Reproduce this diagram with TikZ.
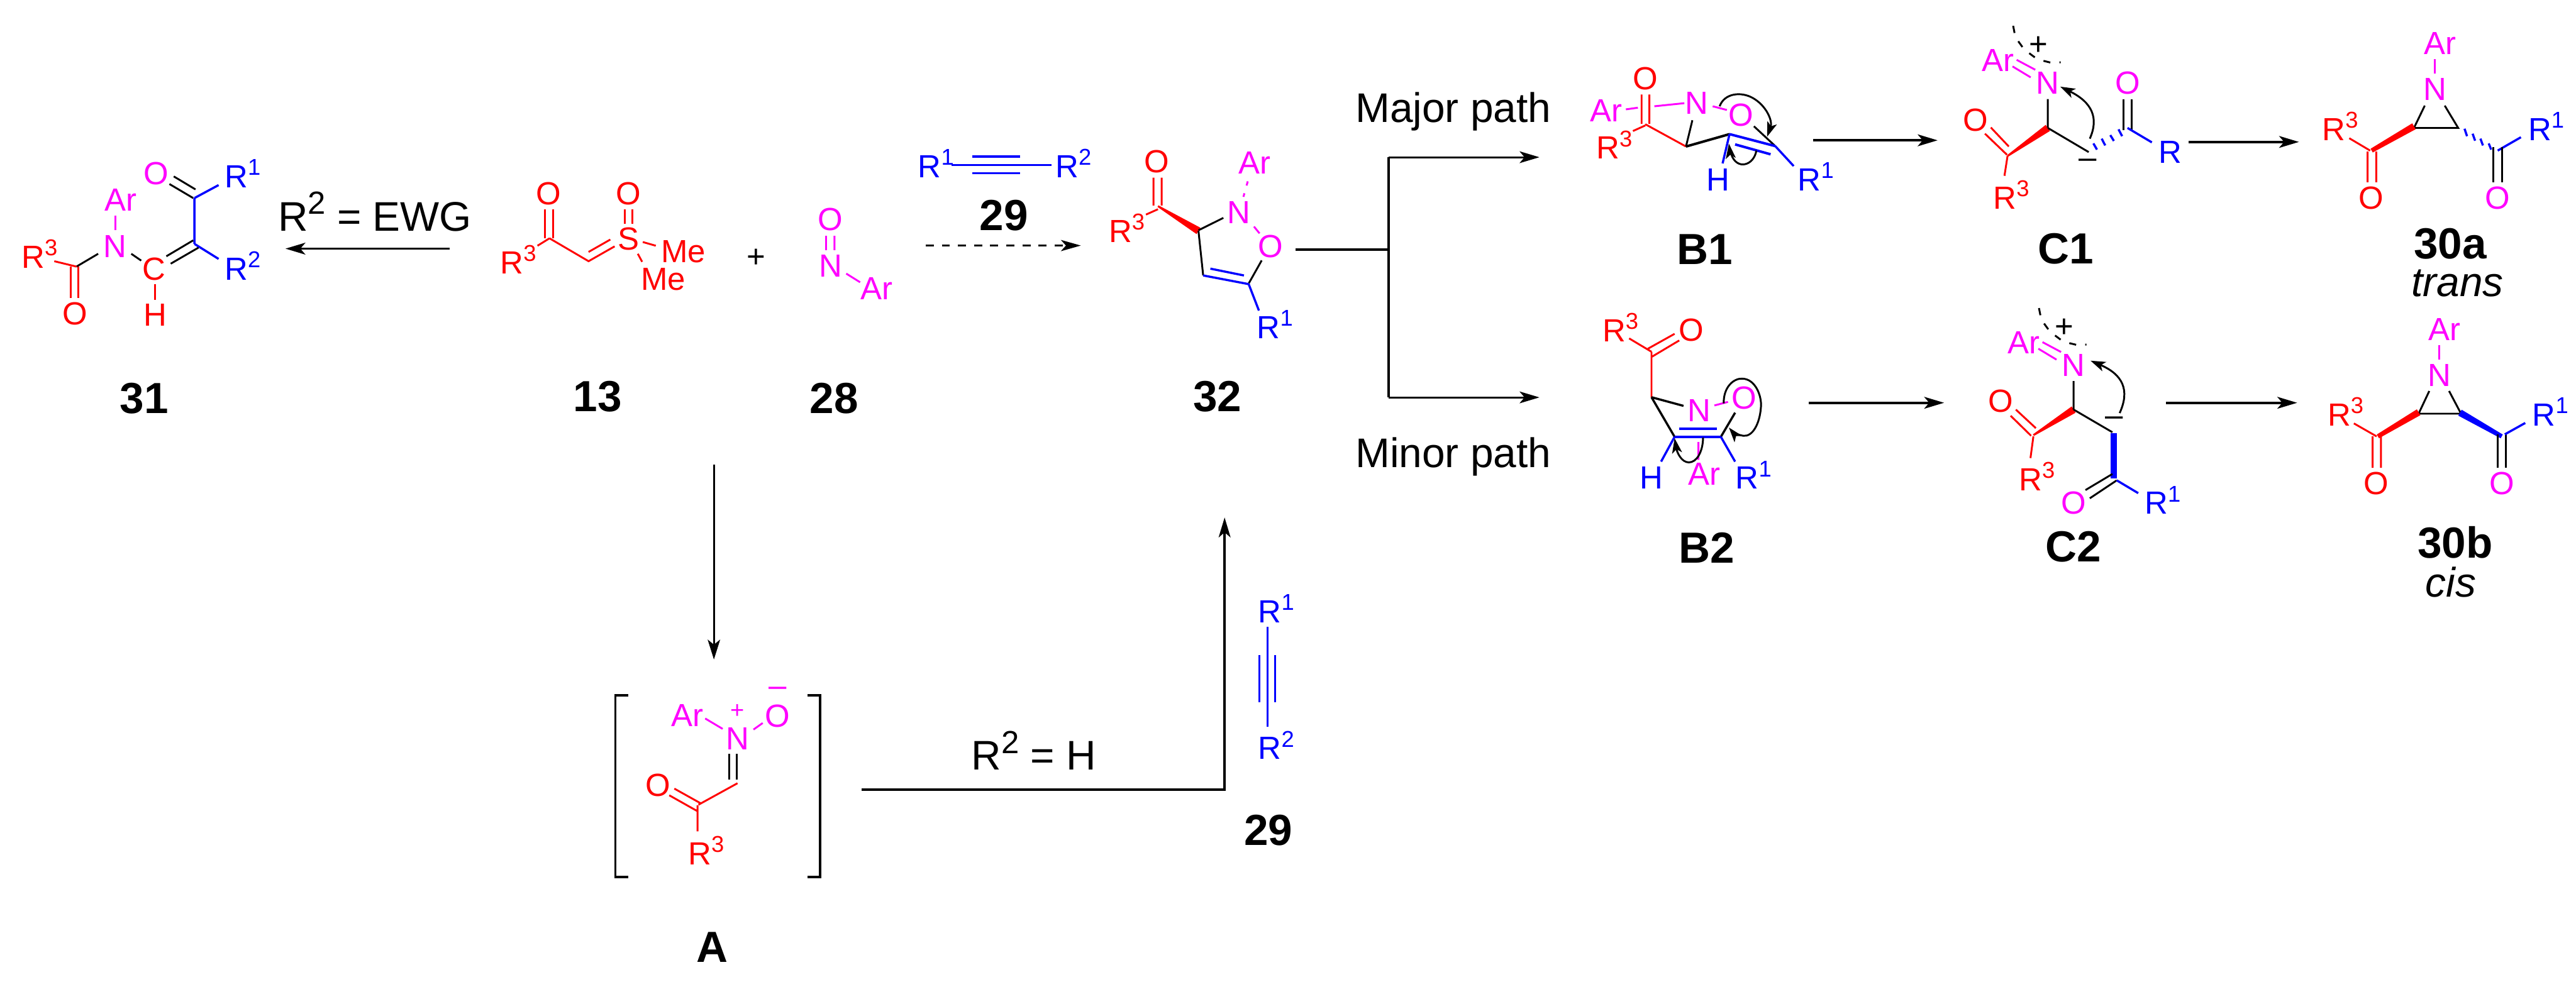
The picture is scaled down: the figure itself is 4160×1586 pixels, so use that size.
\documentclass[tikz,border=0pt]{standalone}
\usepackage{fontspec}
\setmainfont{Liberation Sans}
\usetikzlibrary{arrows.meta,calc}
\definecolor{mg}{RGB}{255,0,255}
\definecolor{rd}{RGB}{255,0,0}
\definecolor{bu}{RGB}{0,0,255}
\newcommand\Rs[1]{R\raisebox{5.7pt}{\fontsize{10.5}{12}\selectfont #1}}
\newcommand\Rb[1]{R\raisebox{7.6pt}{\fontsize{14.7}{16}\selectfont #1}}
% wedge: colour, narrow end, wide end, half width narrow, half width wide (in px = 0.01cm)
\newcommand\wdg[5]{\fill[#1] ($#2!#4*0.01cm!90:#3$) -- ($#2!#4*0.01cm!-90:#3$) -- ($#3!#5*0.01cm!90:#2$) -- ($#3!#5*0.01cm!-90:#2$) -- cycle;}
\tikzset{
  atm/.style={inner sep=0pt,outer sep=0pt,anchor=base,font=\fontsize{14.7}{16}\selectfont},
  lft/.style={anchor=base west},
  cmpd/.style={inner sep=0pt,outer sep=0pt,anchor=base,font=\fontsize{20}{22}\selectfont\bfseries},
  capt/.style={inner sep=0pt,outer sep=0pt,anchor=base west,font=\fontsize{19}{21}\selectfont},
  itl/.style={inner sep=0pt,outer sep=0pt,anchor=base,font=\fontsize{19}{21}\selectfont\itshape},
  bk/.style={draw=black,line width=0.03cm},
  brd/.style={draw=rd,line width=0.03cm},
  bbu/.style={draw=bu,line width=0.035cm},
  bmg/.style={draw=mg,line width=0.03cm},
  rxn/.style={draw=black,line width=0.04cm,-{Stealth[length=.32cm,width=.19cm,inset=.08cm]}},
  thinrxn/.style={draw=black,line width=0.03cm,-{Stealth[length=.32cm,width=.2cm,inset=.08cm]}},
  curly/.style={draw=black,line width=0.03cm,-{Stealth[length=.24cm,width=.16cm,inset=.06cm]}},
}
\begin{document}
\begin{tikzpicture}[x=0.01cm,y=-0.01cm]
\useasboundingbox (0,0) rectangle (4160,1586);
\fill[white] (0,0) rectangle (4160,1586);

% ---------- compound 31
\node[atm,rd] (a31o2) at (121.4,525) {O};
\node[atm,lft,rd] (a31r3) at (35,433) {\Rs{3}};
\node[atm,mg] (a31n) at (186,415.7) {N};
\node[atm,mg] (a31ar) at (195,340.7) {Ar};
\node[atm,rd] (a31c) at (249,452) {C};
\node[atm,rd] (a31h) at (250.4,527) {H};
\node[atm,mg] (a31o1) at (252,298) {O};
\node[atm,lft,bu] (a31r1) at (363,303.3) {\Rs{1}};
\node[atm,lft,bu] (a31r2) at (363,452) {\Rs{2}};
\node[cmpd] (l31) at (233,668) {31};
\draw[bk] (280.6,285)--(315.7,306) (273.6,297.3)--(312,320);
\draw[bbu] (314,320)--(353,299) (314,320)--(314,394) (314,394)--(353,418.3);
\draw[bk] (312,388.3)--(268.7,414) (320.6,400)--(275.7,426);
\draw[brd] (250.4,459)--(250.4,484);
\draw[bk] (228,421)--(212,410) (158.5,410)--(123.5,430.7);
\draw[bmg] (186,348)--(186,372);
\draw[brd] (123.5,430.7)--(87.7,422);
\draw[brd] (114.3,430.7)--(114.3,481.7) (126.3,430.7)--(126.3,481.7);

\node[capt] (tewg) at (449,373) {\Rb{2} = EWG};
\coordinate (arrA) at (726,401.7);
\coordinate (arrB) at (461,401.7);
\draw[rxn] (arrA) -- (arrB);

% ---------- compound 13
\node[atm,rd] (a13o1) at (886,331) {O};
\node[atm,rd] (a13o2) at (1015,331) {O};
\node[atm,rd] (a13s) at (1015,404) {S};
\node[atm,lft,rd] (a13r) at (808,442) {\Rs{3}};
\node[atm,lft,rd] (a13me1) at (1068,424) {Me};
\node[atm,lft,rd] (a13me2) at (1035,469) {Me};
\node[cmpd] (l13) at (965,665) {13};
\draw[brd] (880,338)--(880,385) (893,338)--(893,385);
\draw[brd] (887.4,385)--(868,397) (887.4,385)--(950.5,422)--(992.6,398) (950.5,407)--(985.6,387);
\draw[brd] (1009,338)--(1009,362) (1021,338)--(1021,362);
\draw[brd] (1038,391)--(1059,397) (1030,410)--(1037,423);

\node[atm] (plus) at (1221,432) {+};

% ---------- compound 28
\node[atm,mg] (a28o) at (1341,372.7) {O};
\node[atm,mg] (a28n) at (1341,447) {N};
\node[atm,lft,mg] (a28ar) at (1390,484) {Ar};
\node[cmpd] (l28) at (1347,667.7) {28};
\draw[bmg] (1334,381)--(1334,404) (1347.5,381)--(1347.5,404) (1366.6,442)--(1389,456);

% ---------- compound 29 top
\node[atm,lft,bu] (a29r1) at (1482.6,286.7) {\Rs{1}};
\node[atm,lft,bu] (a29r2) at (1704.6,286.7) {\Rs{2}};
\node[cmpd] (l29a) at (1621,372.7) {29};
\draw[bbu] (1537,266.7)--(1698,266.7) (1570,252.7)--(1647,252.7) (1570,280)--(1647,280);
\coordinate (dashA) at (1495,396.7);
\coordinate (dashB) at (1745.4,396.7);
\draw[draw=black,line width=0.033cm,dash pattern=on .13cm off .13cm,-{Stealth[length=.32cm,width=.18cm,inset=.08cm]}] (dashA) -- (dashB);

% ---------- compound 32
\node[atm,rd] (a32o1) at (1868.5,279) {O};
\node[atm,mg] (a32ar) at (2026,281) {Ar};
\node[atm,mg] (a32n) at (2001,361) {N};
\node[atm,mg] (a32o) at (2051.5,415.7) {O};
\node[atm,lft,rd] (a32r3) at (1790.7,391.7) {\Rs{3}};
\node[atm,lft,bu] (a32r1) at (2030,547) {\Rs{1}};
\node[cmpd] (l32) at (1966,665) {32};
\draw[brd] (1862.8,287)--(1862.8,332) (1876,287)--(1876,332) (1870,338)--(1850.6,346.7);
\wdg{rd}{(1870,333)}{(1935.4,373)}{1.5}{6}
\draw[bk] (1935.4,372)--(1975.6,352) (1935.4,373)--(1943,445) (2037.5,420.7)--(2016.5,458);
\draw[bmg,dash pattern=on .07cm off .13cm] (2015,293)--(2008,318);
\draw[bmg] (2025,366)--(2034,377);
\draw[bbu] (1943,445)--(2016.5,459) (1954.6,434)--(2008.8,445) (2016.5,459)--(2033,501.7);

% ---------- branch
\coordinate (brS) at (2092,403);
\coordinate (brJ) at (2242,403);
\coordinate (brT) at (2242,254);
\coordinate (brB) at (2242,642);
\coordinate (brTe) at (2486,254);
\coordinate (brBe) at (2486,642);
\draw[bk,line width=0.04cm] (brS) -- (brJ);
\draw[bk,line width=0.04cm] (brT) -- (brB);
\draw[rxn,line width=0.03cm] (brT) -- (brTe);
\draw[rxn,line width=0.03cm] (brB) -- (brBe);
\node[capt] (tmaj) at (2189,198) {Major path};
\node[capt] (tmin) at (2189,755) {Minor path};

% ---------- B1
\node[atm,rd] (b1o1) at (2657,145) {O};
\node[atm,lft,mg] (b1ar) at (2568,197) {Ar};
\node[atm,lft,rd] (b1r3) at (2578,256.7) {\Rs{3}};
\node[atm,mg] (b1n) at (2740.5,184) {N};
\node[atm,mg] (b1o) at (2811.7,204) {O};
\node[atm,bu] (b1h) at (2775,308.3) {H};
\node[atm,lft,bu] (b1r1) at (2903.5,308.3) {\Rs{1}};
\node[cmpd] (lb1) at (2753,427) {B1};
\draw[brd] (2651,152.7)--(2651,200) (2663.6,152.7)--(2663.6,200) (2657,202.7)--(2637,211.7) (2657,200.7)--(2722.7,236.7);
\draw[bmg] (2625.7,176.7)--(2645,174) (2671.6,171.7)--(2720,166.7) (2765.8,171.7)--(2788.7,177.7);
\draw[bk] (2733,194.3)--(2722.7,236.7);
\draw[bk,line width=0.04cm] (2722.7,236.7)--(2793,216.7);
\draw[bk] (2832.4,204)--(2866.8,236);
\draw[bbu,line width=0.04cm] (2793,216.7)--(2866.8,236) (2802,233.3)--(2859.3,249.3);
\draw[bbu] (2866.8,236)--(2896.6,268.3) (2793,216.7)--(2781.8,264);
\draw[curly] (2777,171.7) .. controls (2785,150) and (2812,148) .. (2830,158) .. controls (2852,170) and (2863,195) .. (2853.6,221);
\draw[curly] (2836.4,243.3) .. controls (2832,268) and (2805,275) .. (2796,250) .. controls (2794,245) and (2793,240) .. (2792,232);
\coordinate (b1A) at (2928,226.7);
\coordinate (b1B) at (3129,226.7);
\draw[rxn] (b1A) -- (b1B);

% ---------- C1
\node[atm,rd] (c1o1) at (3190.6,211.7) {O};
\node[atm,lft,rd] (c1r3) at (3219,337.3) {\Rs{3}};
\node[atm,lft,mg] (c1ar) at (3201,115) {Ar};
\node[atm,mg] (c1n) at (3307,152.3) {N};
\node[atm,mg] (c1o2) at (3435.7,152.3) {O};
\node[atm,lft,bu] (c1r) at (3486,263.3) {R};
\node[atm] (c1plus) at (3291.8,89) {+};
\node[atm] (c1minus) at (3371,272) {\symbol{"2013}};
\node[cmpd] (lc1) at (3336,426) {C1};
\draw[brd] (3215,206)--(3244,236.7) (3205.5,216)--(3241,250) (3242,251.7)--(3237,284);
\wdg{rd}{(3242,252)}{(3307,206.7)}{1.5}{6}
\draw[bk] (3307,160)--(3307,206) (3307,206.7)--(3373,245.7);
\draw[bmg] (3256.7,96.7)--(3286.7,112.7) (3250,107.3)--(3279.3,125);
\draw[bk] (3251,41.7)--(3253.3,53.3) (3259.3,66.7)--(3266,76) (3277,86)--(3286,92.7) (3300,98.3)--(3311,101) (3325.7,100.7)--(3327.7,100.7);
\draw[bbu] (3380.6,231.7)--(3386.4,241.7) (3394,224)--(3399.7,235) (3407.9,218.3)--(3413.7,227.7) (3421.2,209)--(3427,220);
\draw[bk] (3428.8,160)--(3428.8,210.7) (3442.7,160)--(3442.7,210.7);
\draw[bbu] (3435.7,206.7)--(3475,230);
\draw[curly] (3374.8,224) .. controls (3390,190) and (3378,165) .. (3327,140);
\coordinate (c1A) at (3534.4,229.3);
\coordinate (c1B) at (3712.6,229.3);
\draw[rxn] (c1A) -- (c1B);

% ---------- 30a
\node[atm,mg] (pa_ar) at (3940.7,88.3) {Ar};
\node[atm,mg] (pa_n) at (3932,162.3) {N};
\node[atm,lft,rd] (pa_r3) at (3750.3,226.7) {\Rs{3}};
\node[atm,lft,bu] (pa_r1) at (4082.8,226.7) {\Rs{1}};
\node[atm,rd] (pa_o1) at (3829.2,337.3) {O};
\node[atm,mg] (pa_o2) at (4033.5,337.3) {O};
\node[cmpd] (lpa) at (3957,418.3) {30a};
\node[itl] (ttr) at (3968.5,479) {trans};
\draw[bmg] (3932,95.7)--(3932,119.3);
\draw[bk] (3915.7,170.7)--(3898.3,206.7)--(3969.7,206.7)--(3948,170.7);
\wdg{rd}{(3830,243.3)}{(3898.3,204)}{3.5}{5.5}
\draw[brd] (3827.5,243.3)--(3793.8,223.3) (3823.4,245)--(3823.4,294.3) (3837.3,245)--(3837.3,294.3);
\draw[bbu] (3980,208)--(3984,220) (3993,216)--(3997,227.3) (4005.6,224)--(4009.7,235) (4019,231.7)--(4023,241.7);
\draw[bbu] (4033.5,243.3)--(4071,221.7);
\draw[bk] (4026.5,238)--(4026.5,294.3) (4040.5,238)--(4040.5,294.3);

% ---------- B2
\node[atm,lft,rd] (b2r3) at (2587.8,551.7) {\Rs{3}};
\node[atm,rd] (b2o1) at (2731.3,550.7) {O};
\node[atm,mg] (b2n) at (2744.5,680.7) {N};
\node[atm,mg] (b2o) at (2816.3,661) {O};
\node[atm,bu] (b2h) at (2667,790) {H};
\node[atm,lft,mg] (b2ar) at (2726,784) {Ar};
\node[atm,lft,bu] (b2r1) at (2803,790) {\Rs{1}};
\node[cmpd] (lb2) at (2756,910) {B2};
\draw[brd] (2630.9,546.7)--(2667,568.3) (2704.3,539.3)--(2661.3,563.3) (2711.8,550)--(2667,576.7) (2667,568.3)--(2667,641.7);
\draw[bk,line width=0.035cm] (2667,641.7)--(2718.7,655.7) (2667,641.7)--(2704.3,705.7) (2779,705.7)--(2802,666.7);
\draw[bbu,line width=0.04cm] (2704.3,705.7)--(2779,705.7) (2712,692.7)--(2773,692.7);
\draw[bbu] (2704.3,705.7)--(2682.5,745.7) (2779,705.7)--(2802,745.7);
\draw[bmg] (2768.6,655)--(2790.5,649.3) (2742.8,714)--(2742.8,742.7);
\draw[curly] (2783.6,651.7) .. controls (2783,625) and (2800,611) .. (2813.4,611.7) .. controls (2835,612) and (2845,640) .. (2843.8,656.7) .. controls (2842,685) and (2830,706) .. (2815,704) .. controls (2805,702) and (2798,698) .. (2792,690.7);
\draw[curly] (2750.3,706.7) .. controls (2750,730) and (2740,747) .. (2727.3,747) .. controls (2715,747) and (2708,730) .. (2704.3,708);
\coordinate (b2A) at (2921.3,650.7);
\coordinate (b2B) at (3139.5,650.7);
\draw[rxn] (b2A) -- (b2B);

% ---------- C2
\node[atm,rd] (c2o1) at (3231.3,666) {O};
\node[atm,lft,rd] (c2r3) at (3260.4,792.3) {\Rs{3}};
\node[atm,lft,mg] (c2ar) at (3242.7,571) {Ar};
\node[atm,mg] (c2n) at (3348.7,608.3) {N};
\node[atm,mg] (c2o2) at (3348.7,830.7) {O};
\node[atm,lft,bu] (c2r1) at (3463.6,830.7) {\Rs{1}};
\node[atm] (c2plus) at (3333.5,545) {+};
\node[atm] (c2minus) at (3414,688) {\symbol{"2013}};
\node[cmpd] (lc2) at (3348.7,907.7) {C2};
\draw[brd] (3255.4,661.7)--(3287.7,691.7) (3247,671.7)--(3280,704) (3283.7,705)--(3279,740);
\wdg{rd}{(3283.7,703)}{(3348.7,661.7)}{1.5}{6}
\draw[bk] (3348.7,615.7)--(3348.7,661.7) (3348.7,661.7)--(3411.3,698.3);
\draw[draw=bu,line width=0.1cm] (3413.7,700)--(3413.7,773);
\draw[bk] (3411.3,765.7)--(3367.8,791.7) (3418.3,776)--(3374.8,805);
\draw[bbu] (3418.3,776)--(3453,796.7);
\draw[bmg] (3298.4,552.7)--(3328.4,568.7) (3291.7,563.3)--(3321,581);
\draw[bk] (3292.7,497.7)--(3295,509.3) (3301,522.7)--(3307.7,532) (3318.7,542)--(3327.7,548.7) (3341.7,554.3)--(3352.7,557) (3367.4,556.7)--(3369.4,556.7);
\draw[curly] (3423,667.3) .. controls (3440,630) and (3428,605) .. (3376,582.7);
\coordinate (c2A) at (3497.8,650.7);
\coordinate (c2B) at (3709.7,650.7);
\draw[rxn] (c2A) -- (c2B);

% ---------- 30b
\node[atm,mg] (pb_ar) at (3947.7,550) {Ar};
\node[atm,mg] (pb_n) at (3939,624) {N};
\node[atm,lft,rd] (pb_r3) at (3759,688.3) {\Rs{3}};
\node[atm,lft,bu] (pb_r1) at (4089.8,688.3) {\Rs{1}};
\node[atm,rd] (pb_o1) at (3837.3,799) {O};
\node[atm,mg] (pb_o2) at (4040.5,799) {O};
\node[cmpd] (lpb) at (3965,901.7) {30b};
\node[itl] (tcis) at (3958,964) {cis};
\draw[bmg] (3939,557.7)--(3939,581.3);
\draw[bk] (3923,631.7)--(3905.8,668.3)--(3974.3,668.3)--(3955,631.7);
\wdg{rd}{(3840,705)}{(3905.8,666)}{3.5}{5.5}
\wdg{bu}{(4040,705)}{(3972.6,666.7)}{3.5}{5.5}
\draw[brd] (3838,705)--(3801.3,684) (3831.5,705)--(3831.5,755.7) (3845,705)--(3845,755.7);
\draw[bk] (4033.5,701.7)--(4033.5,755.7) (4047,701.7)--(4047,755.7);
\draw[bbu] (4045,701.7)--(4078,683.3);

% ---------- A
\coordinate (dnA) at (1152.9,751);
\coordinate (dnB) at (1152.9,1065.4);
\draw[thinrxn] (dnA) -- (dnB);
\draw[bk,line width=0.035cm] (1014.4,1123.3)--(993.7,1123.3)--(993.7,1416.7)--(1014.4,1416.7);
\draw[bk,line width=0.035cm] (1303.8,1123.3)--(1324.5,1123.3)--(1324.5,1416.7)--(1303.8,1416.7);
\node[atm,lft,mg] (aar) at (1084,1173.8) {Ar};
\node[atm,mg] (an) at (1191,1211) {N};
\node[atm,mg,font=\fontsize{11}{12}\selectfont] (aplus) at (1191,1160) {+};
\node[atm,mg] (ao) at (1255.7,1174.5) {O};
\node[atm,mg] (amin) at (1255.7,1125) {\symbol{"2013}};
\node[atm,lft,rd] (ar3) at (1111.4,1397) {\Rs{3}};
\node[atm,rd] (ao2) at (1062.5,1285.9) {O};
\node[cmpd] (la) at (1150.4,1554) {A};
\draw[bmg] (1138.8,1160.7)--(1167,1177.5) (1216.8,1178.6)--(1231.7,1168);
\draw[bk] (1177.8,1217.9)--(1177.8,1259.7) (1190.2,1217.9)--(1190.2,1259.7);
\draw[brd] (1191,1265.3)--(1128,1300) (1089,1274)--(1132,1298) (1080.8,1284.8)--(1125.5,1310) (1126.4,1300.8)--(1126.4,1343);

% ---------- R2 = H path and compound 29 lower
\node[capt] (th) at (1569,1243.6) {\Rb{2} = H};
\coordinate (hlA) at (1391.7,1275.4);
\coordinate (hlC) at (1977.6,1275.4);
\coordinate (hlB) at (1977.6,836);
\draw[rxn] (hlA) -- (hlC) -- (hlB);
\node[atm,lft,bu] (a29br1) at (2032,1005.6) {\Rs{1}};
\node[atm,lft,bu] (a29br2) at (2032,1226.8) {\Rs{2}};
\node[cmpd] (l29b) at (2048.4,1366) {29};
\draw[bbu] (2046.8,1013)--(2046.8,1173.8) (2033.5,1058.7)--(2033.5,1134.5) (2059,1058.7)--(2059,1134.5);
\end{tikzpicture}
\end{document}
